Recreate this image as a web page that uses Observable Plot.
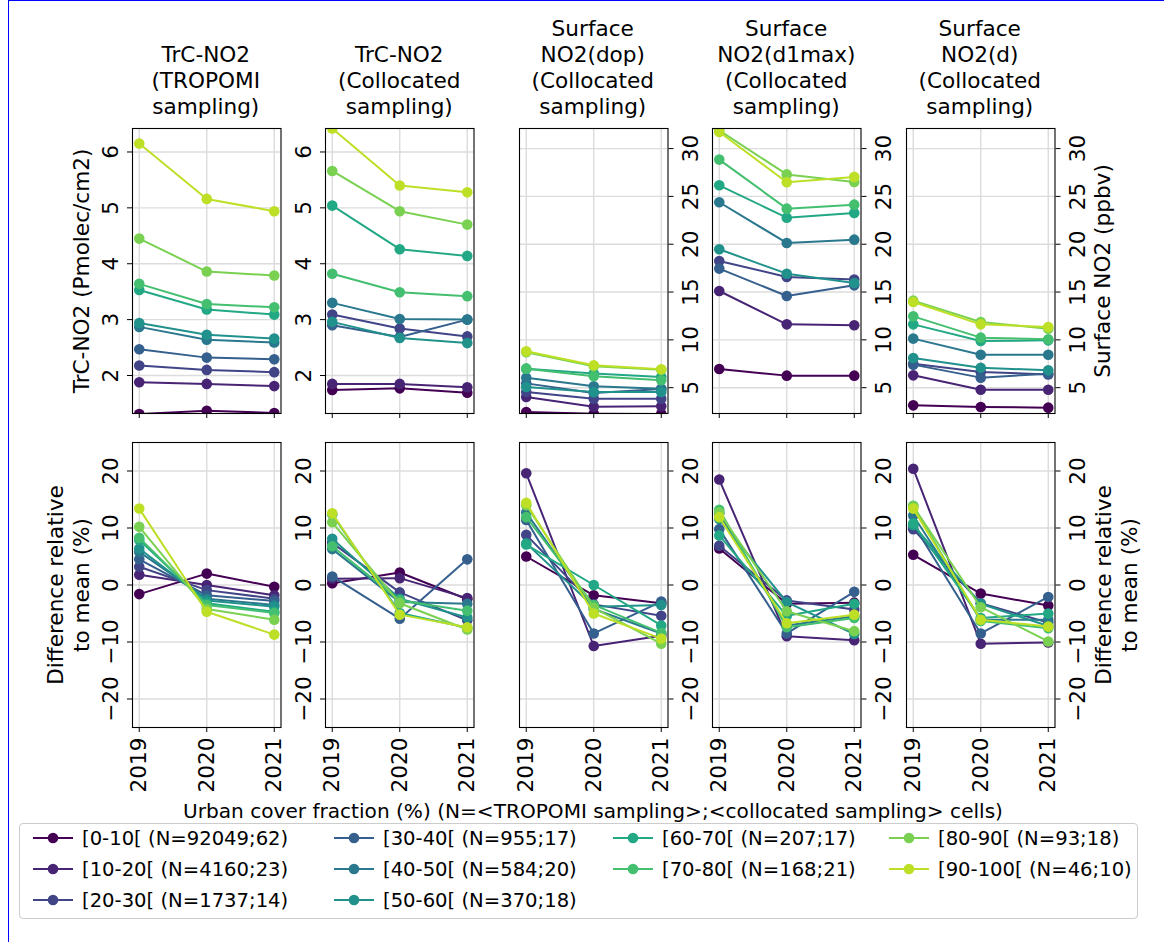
<!DOCTYPE html>
<html>
<head>
<meta charset="utf-8">
<script src="https://cdn.jsdelivr.net/npm/d3@7"></script>
<script src="https://cdn.jsdelivr.net/npm/@observablehq/plot@0.6"></script>
<style>
  body { margin: 0; background: #fff; }
  #fig { position: relative; width: 1164px; height: 942px; background: #fff; overflow: hidden;
         font-family: "DejaVu Sans", sans-serif; color: #000; }
  #edge { position: absolute; left: 8px; top: 0; width: 1160px; height: 950px;
          border-left: 1px solid #0000ff; border-top: 1px solid #0000ff; }
  .title { position: absolute; width: 220px; text-align: center; font-size: 21.6px; line-height: 25.9px; white-space: nowrap; }
  .ylab { position: absolute; font-size: 21.6px; line-height: 25.9px; white-space: nowrap; text-align: center;
          transform: translate(-50%, -50%) rotate(-90deg); }
  .xlab { position: absolute; font-size: 20.1px; white-space: nowrap; transform: translate(-50%, -50%); }
  #legend { position: absolute; left: 19px; top: 823px; width: 1117px; height: 94px; border: 1px solid #cccccc;
            border-radius: 4px; background: rgba(255, 255, 255, 0.8); }
  .entry { position: absolute; font-size: 19.6px; white-space: nowrap; display: flex; align-items: center; }
  .entry svg { margin-right: 8px; }
</style>
</head>
<body>
<div id="fig"><div id="edge"></div></div>
<script>
// Years on the x axis and urban-cover classes (with cell counts)
const years = [2019, 2020, 2021];
const bins = ["[0-10[", "[10-20[", "[20-30[", "[30-40[", "[40-50[", "[50-60[", "[60-70[", "[70-80[", "[80-90[", "[90-100["];
const binCounts = ["N=92049;62", "N=4160;23", "N=1737;14", "N=955;17", "N=584;20", "N=370;18", "N=207;17", "N=168;21", "N=93;18", "N=46;10"];
const palette = ["#440154", "#482475", "#414487", "#355f8d", "#2a788e", "#21918c", "#22a884", "#44bf70", "#7ad151", "#bddf26"];

// Tropospheric column NO2 (Pmolec/cm2), one row per urban class: 2019, 2020, 2021
const trcTropomi = [
  [1.31, 1.37, 1.33], [1.88, 1.85, 1.81], [2.18, 2.10, 2.06], [2.47, 2.32, 2.29], [2.87, 2.64, 2.59],
  [2.94, 2.73, 2.66], [3.53, 3.18, 3.09], [3.64, 3.28, 3.22], [4.45, 3.86, 3.79], [6.15, 5.16, 4.94]
];
const trcColloc = [
  [1.74, 1.77, 1.69], [1.85, 1.85, 1.79], [3.09, 2.84, 2.70], [2.90, 2.69, 3.00], [3.30, 3.01, 3.00],
  [2.96, 2.67, 2.58], [5.04, 4.26, 4.14], [3.82, 3.49, 3.42], [5.66, 4.94, 4.70], [6.42, 5.40, 5.28]
];
// Surface NO2 (ppbv)
const no2Dop = [
  [2.45, 2.28, 2.25], [4.02, 3.00, 3.06], [4.55, 3.85, 3.85], [5.45, 4.45, 4.85], [6.05, 5.14, 4.90],
  [5.07, 4.55, 4.55], [6.99, 6.47, 6.12], [6.99, 6.19, 5.77], [8.70, 7.25, 6.88], [8.80, 7.34, 6.92]
];
const no2D1max = [
  [6.95, 6.26, 6.26], [15.11, 11.62, 11.52], [18.25, 16.58, 16.30], [17.45, 14.59, 15.70], [24.39, 20.13, 20.48],
  [19.47, 16.92, 15.95], [26.16, 22.78, 23.27], [28.85, 23.72, 24.14], [31.90, 27.30, 26.50], [31.74, 26.48, 27.04]
];
const no2D = [
  [3.15, 2.98, 2.91], [6.29, 4.79, 4.79], [7.51, 6.64, 6.39], [7.41, 6.05, 6.46], [10.13, 8.45, 8.45],
  [8.10, 7.09, 6.81], [11.62, 9.88, 9.95], [12.46, 10.23, 10.06], [14.10, 11.87, 11.17], [13.96, 11.62, 11.35]
];
// Difference relative to the 2019-2021 mean (%)
const diffTropomi = [
  [-1.6, 2.0, -0.3], [1.8, 0.0, -1.8], [3.2, -0.9, -2.4], [4.5, -1.8, -2.8], [5.8, -2.4, -3.5],
  [6.4, -2.7, -3.8], [7.9, -3.2, -4.7], [8.3, -3.5, -4.9], [10.2, -4.2, -6.1], [13.4, -4.7, -8.7]
];
const diffColloc = [
  [0.3, 2.2, -2.5], [1.1, 1.2, -2.3], [7.4, -1.3, -6.2], [1.5, -5.9, 4.5], [6.3, -3.0, -3.3],
  [8.1, -2.4, -5.7], [12.4, -4.9, -7.5], [6.8, -2.7, -4.5], [11.0, -3.2, -7.8], [12.6, -5.2, -7.4]
];
const diffDop = [
  [5.0, -1.8, -3.2], [19.6, -10.7, -8.9], [8.8, -3.4, -5.4], [11.4, -8.5, -2.9], [12.7, -4.2, -8.5],
  [7.3, -3.8, -3.5], [7.1, 0.0, -7.1], [11.9, -3.5, -8.4], [14.0, -4.0, -10.3], [14.4, -5.0, -9.4]
];
const diffD1max = [
  [6.4, -3.3, -3.1], [18.5, -9.0, -9.7], [6.9, -2.7, -4.3], [9.8, -8.5, -1.2], [12.6, -7.1, -5.5],
  [11.6, -3.0, -8.6], [8.7, -5.4, -3.3], [13.2, -7.4, -5.8], [12.7, -4.6, -8.1], [11.9, -6.7, -5.2]
];
const diffD = [
  [5.3, -1.5, -3.6], [20.4, -10.3, -10.1], [9.8, -3.2, -6.6], [10.6, -8.5, -2.1], [12.2, -6.1, -6.1],
  [10.5, -3.3, -7.2], [10.8, -5.8, -5.0], [13.9, -6.3, -7.6], [13.8, -3.9, -9.9], [13.4, -6.1, -7.3]
];

const panelTitles = [
  ["TrC-NO2", "(TROPOMI", "sampling)"],
  ["TrC-NO2", "(Collocated", "sampling)"],
  ["Surface", "NO2(dop)", "(Collocated", "sampling)"],
  ["Surface", "NO2(d1max)", "(Collocated", "sampling)"],
  ["Surface", "NO2(d)", "(Collocated", "sampling)"]
];
const trcTicks = [2, 3, 4, 5, 6];
const surfaceTicks = [5, 10, 15, 20, 25, 30];
const diffTicks = [-20, -10, 0, 10, 20];

// Layout of the 2 x 5 grid of axes
const fig = document.getElementById("fig");
const frameW = 148.5, frameH = 285;
const colLeft = i => 131.5 + i * 193.5;
const rowTop = [128, 442];
const M = {left: 75, right: 75, top: 8, bottom: 80};
const FONT = "21.6px";

function panel({values, yDomain, yTicks, side, xLabels, col, row}) {
  const rows = [];
  values.forEach((vals, i) => vals.forEach((v, j) => rows.push({bin: bins[i], year: years[j], value: v})));
  const marks = [
    Plot.gridX(years, {stroke: "#dcdcdc", strokeOpacity: 1, strokeWidth: 1.4}),
    Plot.gridY(yTicks, {stroke: "#dcdcdc", strokeOpacity: 1, strokeWidth: 1.4})
  ];
  // each class: its line, then its markers, later classes on top
  bins.forEach(b => {
    const s = rows.filter(r => r.bin === b);
    marks.push(Plot.line(s, {x: "year", y: "value", stroke: "bin", strokeWidth: 2, clip: true}));
    marks.push(Plot.dot(s, {x: "year", y: "value", fill: "bin", r: 5.3, clip: true}));
  });
  marks.push(Plot.frame({stroke: "#000", strokeWidth: 1.1}));
  marks.push(Plot.axisX(years, {
    anchor: "bottom", label: null, tickSize: 5, tickRotate: -90, tickPadding: 5, fontSize: FONT,
    tickFormat: xLabels ? (d => String(d)) : (() => "")
  }));
  marks.push(Plot.axisY(yTicks, {
    anchor: side, label: null, tickSize: 5, tickRotate: -90, tickPadding: 10, fontSize: FONT,
    lineAnchor: side === "left" ? "bottom" : "top", tickFormat: d3.format("d")
  }));
  const svg = Plot.plot({
    width: frameW + M.left + M.right,
    height: frameH + M.top + M.bottom,
    marginLeft: M.left, marginRight: M.right, marginTop: M.top, marginBottom: M.bottom,
    x: {type: "linear", domain: [2018.9, 2021.1], label: null},
    y: {domain: yDomain, label: null},
    color: {domain: bins, range: palette},
    style: {fontFamily: "DejaVu Sans", fontSize: FONT, background: "transparent", overflow: "visible", color: "#000"},
    marks
  });
  svg.style.position = "absolute";
  svg.style.left = (colLeft(col) - M.left) + "px";
  svg.style.top = (rowTop[row] - M.top) + "px";
  svg.style.maxWidth = "none";
  fig.appendChild(svg);
}

const trcDomain = [1.32, 6.42];
const surfDomain = [2.3, 32.1];
const diffDomain = [-25, 25];

panel({values: trcTropomi, yDomain: trcDomain, yTicks: trcTicks, side: "left", xLabels: false, col: 0, row: 0});
panel({values: trcColloc, yDomain: trcDomain, yTicks: trcTicks, side: "left", xLabels: false, col: 1, row: 0});
panel({values: no2Dop, yDomain: surfDomain, yTicks: surfaceTicks, side: "right", xLabels: false, col: 2, row: 0});
panel({values: no2D1max, yDomain: surfDomain, yTicks: surfaceTicks, side: "right", xLabels: false, col: 3, row: 0});
panel({values: no2D, yDomain: surfDomain, yTicks: surfaceTicks, side: "right", xLabels: false, col: 4, row: 0});
panel({values: diffTropomi, yDomain: diffDomain, yTicks: diffTicks, side: "left", xLabels: true, col: 0, row: 1});
panel({values: diffColloc, yDomain: diffDomain, yTicks: diffTicks, side: "left", xLabels: true, col: 1, row: 1});
panel({values: diffDop, yDomain: diffDomain, yTicks: diffTicks, side: "right", xLabels: true, col: 2, row: 1});
panel({values: diffD1max, yDomain: diffDomain, yTicks: diffTicks, side: "right", xLabels: true, col: 3, row: 1});
panel({values: diffD, yDomain: diffDomain, yTicks: diffTicks, side: "right", xLabels: true, col: 4, row: 1});

// Column titles
panelTitles.forEach((lines, i) => {
  const d = document.createElement("div");
  d.className = "title";
  d.style.left = (colLeft(i) + frameW / 2 - 110) + "px";
  d.style.bottom = (942 - 120) + "px";
  d.innerHTML = lines.join("<br>");
  fig.appendChild(d);
});

// Axis titles
function ylab(html, cx, cy) {
  const d = document.createElement("div");
  d.className = "ylab";
  d.style.left = cx + "px";
  d.style.top = cy + "px";
  d.innerHTML = html;
  fig.appendChild(d);
}
ylab("TrC-NO2 (Pmolec/cm2)", 82, rowTop[0] + frameH / 2);
ylab("Surface NO2 (ppbv)", 1103, rowTop[0] + frameH / 2);
ylab("Difference relative<br>to mean (%)", 69, rowTop[1] + frameH / 2);
ylab("Difference relative<br>to mean (%)", 1117, rowTop[1] + frameH / 2);

const xl = document.createElement("div");
xl.className = "xlab";
xl.style.left = "593px";
xl.style.top = "811px";
xl.textContent = "Urban cover fraction (%) (N=<TROPOMI sampling>;<collocated sampling> cells)";
fig.appendChild(xl);

// Legend: 4 columns filled column by column
const legend = document.createElement("div");
legend.id = "legend";
fig.appendChild(legend);
const legendCols = [[0, 1, 2], [3, 4, 5], [6, 7], [8, 9]];
const colX = [12, 313, 592, 868];
const rowY = [14, 45, 76];
legendCols.forEach((idx, c) => idx.forEach((k, r) => {
  const e = document.createElement("div");
  e.className = "entry";
  e.style.left = colX[c] + "px";
  e.style.top = (rowY[r] - 12) + "px";
  e.style.height = "24px";
  const sw = d3.create("svg").attr("width", 42).attr("height", 14);
  sw.append("line").attr("x1", 1).attr("x2", 41).attr("y1", 7).attr("y2", 7).attr("stroke", palette[k]).attr("stroke-width", 2);
  sw.append("circle").attr("cx", 21).attr("cy", 7).attr("r", 5.3).attr("fill", palette[k]);
  e.appendChild(sw.node());
  const t = document.createElement("span");
  t.textContent = `${bins[k]} (${binCounts[k]})`;
  e.appendChild(t);
  legend.appendChild(e);
}));
</script>
</body>
</html>
